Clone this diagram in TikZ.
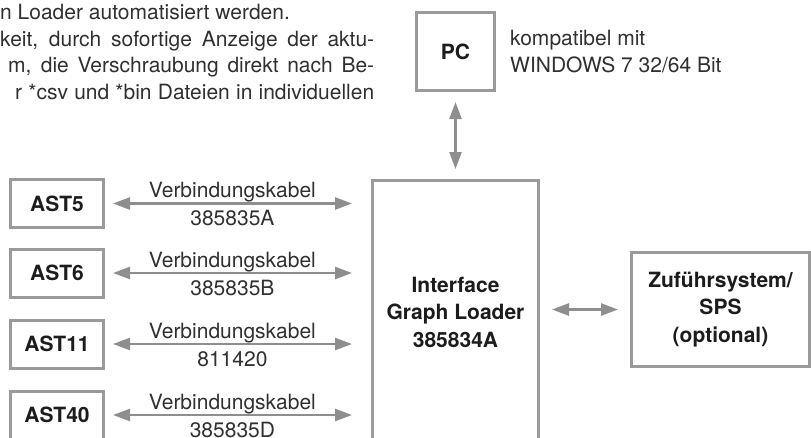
\documentclass[tikz,border=0pt]{standalone}
\usepackage{fontspec}
\setmainfont{TeX Gyre Heros}
\usetikzlibrary{arrows.meta}
\definecolor{boxgray}{HTML}{9A9A9A}
\definecolor{arrowgray}{HTML}{8E8E8E}
\definecolor{txtlight}{HTML}{303030}
\definecolor{txtbold}{HTML}{1C1C1C}
\begin{document}
\begin{tikzpicture}[x=1pt,y=-1pt,
  box/.style={draw=boxgray, line width=3pt, inner sep=0pt, font=\fontsize{21}{27.5}\selectfont\bfseries, text=txtbold, align=center},
  link/.style={draw=arrowgray, line width=2.5pt, {Triangle[length=17pt,width=12pt]}-{Triangle[length=17pt,width=12pt]}},
  lbl/.style={font=\fontsize{21}{27}\selectfont, text=txtlight, inner sep=0pt, anchor=base},
  para/.style={font=\fontsize{21}{26.7}\selectfont, text=txtlight, inner sep=0pt, anchor=base west}]
\useasboundingbox (0,0) rectangle (811,437);

% paragraph fragment
\node[para] (p1) at (0,19.5) {n Loader automatisiert werden.};
\node[para] (p2) at (0,46.2) {\makebox[374pt][s]{keit, durch sofortige Anzeige der aktu-}};
\node[para] (p3) at (8,72.9) {\makebox[366pt][s]{m, die Verschraubung direkt nach Be-}};
\node[para] (p4) at (15,99.6) {\makebox[359pt][s]{r *csv und *bin Dateien in individuellen}};

% boxes
\node[box, minimum width=78pt, minimum height=78pt] (pc) at (455.5,51.5) {PC};
\node[box, minimum width=166pt, minimum height=263pt] (iface) at (455.5,312) {Interface\\Graph Loader\\385834A};
\node[box, minimum width=178pt, minimum height=114pt] (zuf) at (720.5,309.5) {Zuführsystem/\\SPS\\(optional)};
\node[box, minimum width=93pt, minimum height=48pt] (ast5) at (57,203.5) {AST5};
\node[box, minimum width=93pt, minimum height=48pt] (ast6) at (57,273) {AST6};
\node[box, minimum width=93pt, minimum height=48pt] (ast11) at (57,344) {AST11};
\node[box, minimum width=93pt, minimum height=48pt] (ast40) at (57,415) {AST40};

% PC note
\node[lbl, anchor=base west] (note1) at (510,45.5) {kompatibel mit};
\node[lbl, anchor=base west] (note2) at (510,72) {WINDOWS 7 32/64 Bit};

% connectors
\draw[link, shorten <=10pt, shorten >=10pt] (pc.south) -- (iface.north);
\draw[link, shorten <=12pt, shorten >=12pt] (iface.east |- zuf.west) -- (zuf.west);

\draw[link, shorten <=8pt, shorten >=19pt] (ast5.east) -- (ast5.east -| iface.west)
  node[lbl, pos=.479, yshift=6pt] (c5a) {Verbindungskabel}
  node[lbl, pos=.479, yshift=-22pt] (c5b) {385835A};
\draw[link, shorten <=8pt, shorten >=19pt] (ast6.east) -- (ast6.east -| iface.west)
  node[lbl, pos=.479, yshift=6pt] (c6a) {Verbindungskabel}
  node[lbl, pos=.479, yshift=-22pt] (c6b) {385835B};
\draw[link, shorten <=8pt, shorten >=19pt] (ast11.east) -- (ast11.east -| iface.west)
  node[lbl, pos=.479, yshift=6pt] (c11a) {Verbindungskabel}
  node[lbl, pos=.479, yshift=-22pt] (c11b) {811420};
\draw[link, shorten <=8pt, shorten >=19pt] (ast40.east) -- (ast40.east -| iface.west)
  node[lbl, pos=.479, yshift=6pt] (c40a) {Verbindungskabel}
  node[lbl, pos=.479, yshift=-22pt] (c40b) {385835D};
\end{tikzpicture}
\end{document}
